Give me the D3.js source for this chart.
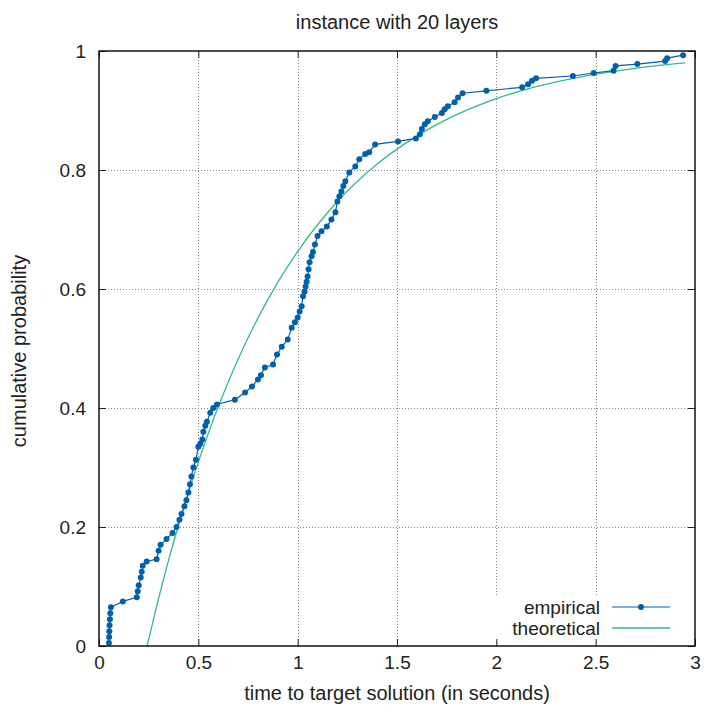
<!DOCTYPE html>
<html><head><meta charset="utf-8">
<script src="https://cdn.jsdelivr.net/npm/d3@7"></script>
<style>body{margin:0;background:#fff}svg{display:block}text{font-family:"Liberation Sans",Arial,sans-serif;fill:#222}</style>
</head><body>
<script>
const title = "instance with 20 layers";
const xLabel = "time to target solution (in seconds)";
const yLabel = "cumulative probability";
const xTicks = [0, 0.5, 1, 1.5, 2, 2.5, 3];
const yTicks = [0, 0.2, 0.4, 0.6, 0.8, 1];
const seriesNames = ["empirical", "theoretical"];

const empiricalTime = [0.050,0.051,0.052,0.053,0.055,0.057,0.060,0.12,0.19,0.195,0.20,0.21,0.215,0.22,0.24,0.29,0.30,0.31,0.34,0.37,0.39,0.405,0.415,0.43,0.44,0.45,0.458,0.465,0.475,0.488,0.50,0.51,0.52,0.525,0.535,0.543,0.56,0.575,0.594,0.684,0.735,0.77,0.80,0.815,0.835,0.876,0.896,0.92,0.95,0.97,0.986,1.0,1.01,1.02,1.027,1.035,1.04,1.045,1.05,1.055,1.06,1.07,1.077,1.087,1.10,1.12,1.147,1.17,1.19,1.20,1.21,1.22,1.23,1.24,1.26,1.29,1.31,1.34,1.36,1.39,1.505,1.595,1.615,1.625,1.64,1.655,1.69,1.726,1.74,1.756,1.79,1.807,1.83,1.95,2.13,2.16,2.18,2.20,2.385,2.49,2.59,2.60,2.71,2.85,2.86,2.94];
const empiricalProb = [0.005,0.015,0.025,0.035,0.045,0.055,0.065,0.075,0.082,0.092,0.102,0.115,0.125,0.135,0.142,0.146,0.160,0.170,0.180,0.190,0.200,0.212,0.222,0.235,0.245,0.258,0.272,0.285,0.300,0.313,0.335,0.340,0.347,0.360,0.370,0.377,0.392,0.400,0.406,0.414,0.426,0.436,0.448,0.455,0.468,0.473,0.490,0.503,0.515,0.535,0.544,0.552,0.562,0.571,0.588,0.596,0.604,0.612,0.621,0.633,0.645,0.655,0.662,0.675,0.689,0.697,0.705,0.717,0.729,0.747,0.756,0.764,0.773,0.781,0.796,0.806,0.818,0.827,0.830,0.843,0.848,0.853,0.860,0.869,0.877,0.882,0.889,0.896,0.902,0.907,0.914,0.922,0.929,0.933,0.939,0.944,0.950,0.954,0.958,0.963,0.967,0.975,0.978,0.983,0.988,0.993];

const theoTime = [0.242,0.27,0.30,0.35,0.40,0.45,0.50,0.60,0.70,0.80,0.90,1.00,1.20,1.40,1.60,1.80,2.00,2.20,2.40,2.60,2.80,2.95];
const theoProb = [0.000,0.039,0.080,0.144,0.203,0.258,0.309,0.402,0.482,0.551,0.611,0.663,0.747,0.810,0.857,0.893,0.920,0.940,0.955,0.966,0.975,0.980];

const W = 704, H = 711;
const m = {left: 99, right: 695, top: 51, bottom: 646};
const blue = "#0060ad", green = "#35b88a";

const svg = d3.select("body").append("svg").attr("width", W).attr("height", H);
const x = d3.scaleLinear().domain([0, 3]).range([m.left, m.right]);
const y = d3.scaleLinear().domain([0, 1]).range([m.bottom, m.top]);

// grid
const grid = svg.append("g").attr("stroke", "#888").attr("stroke-width", 1).attr("stroke-dasharray", "1,2");
grid.selectAll("line.gx").data(xTicks.filter(d => d > 0 && d < 3)).join("line")
  .attr("x1", d => Math.round(x(d)) + 0.5).attr("x2", d => Math.round(x(d)) + 0.5)
  .attr("y1", m.top).attr("y2", m.bottom);
grid.selectAll("line.gy").data(yTicks.filter(d => d > 0 && d < 1)).join("line")
  .attr("y1", d => Math.round(y(d)) + 0.5).attr("y2", d => Math.round(y(d)) + 0.5)
  .attr("x1", m.left).attr("x2", m.right);

// key background blanking grid
svg.append("rect").attr("x", 488).attr("y", 597).attr("width", 200).attr("height", 45).attr("fill", "#fff");

// axes with inward ticks
const fmt = d => d3.format("~g")(d);
svg.append("g").attr("transform", `translate(0,${m.bottom})`)
  .call(d3.axisBottom(x).tickValues(xTicks).tickFormat(fmt).tickSize(-7).tickPadding(10))
  .call(g => { g.select(".domain").remove(); g.selectAll("text").attr("font-size", 19); g.selectAll("line").attr("stroke", "#222"); });
svg.append("g").attr("transform", `translate(0,${m.top})`)
  .call(d3.axisTop(x).tickValues(xTicks).tickFormat("").tickSize(-7))
  .call(g => { g.select(".domain").remove(); g.selectAll("line").attr("stroke", "#222"); });
svg.append("g").attr("transform", `translate(${m.left},0)`)
  .call(d3.axisLeft(y).tickValues(yTicks).tickFormat(fmt).tickSize(-7).tickPadding(13))
  .call(g => { g.select(".domain").remove(); g.selectAll("text").attr("font-size", 19); g.selectAll("line").attr("stroke", "#222"); });
svg.append("g").attr("transform", `translate(${m.right},0)`)
  .call(d3.axisRight(y).tickValues(yTicks).tickFormat("").tickSize(-7))
  .call(g => { g.select(".domain").remove(); g.selectAll("line").attr("stroke", "#222"); });

// clip
svg.append("clipPath").attr("id", "clip").append("rect")
  .attr("x", m.left).attr("y", m.top).attr("width", m.right - m.left).attr("height", m.bottom - m.top);

const emp = empiricalTime.map((t, i) => [t, empiricalProb[i]]);
const theo = theoTime.map((t, i) => [t, theoProb[i]]);

const plot = svg.append("g").attr("clip-path", "url(#clip)");
plot.append("path").datum(theo)
  .attr("d", d3.line().x(d => x(d[0])).y(d => y(d[1])).curve(d3.curveMonotoneX))
  .attr("fill", "none").attr("stroke", green).attr("stroke-width", 1.3);
plot.append("path").datum(emp)
  .attr("d", d3.line().x(d => x(d[0])).y(d => y(d[1])))
  .attr("fill", "none").attr("stroke", blue).attr("stroke-width", 1.2);
plot.selectAll("circle").data(emp).join("circle")
  .attr("cx", d => x(d[0])).attr("cy", d => y(d[1])).attr("r", 3).attr("fill", blue);

// frame
svg.append("rect").attr("x", m.left).attr("y", m.top).attr("width", m.right - m.left).attr("height", m.bottom - m.top)
  .attr("fill", "none").attr("stroke", "#111").attr("stroke-width", 1.5);

// legend
const lg = svg.append("g");
[0, 1].forEach(i => {
  const yy = 607 + i * 21;
  lg.append("text").attr("x", 600).attr("y", yy).attr("dy", "0.35em").attr("text-anchor", "end")
    .attr("font-size", 19).text(seriesNames[i]);
  lg.append("line").attr("x1", 612).attr("x2", 670).attr("y1", yy).attr("y2", yy)
    .attr("stroke", i === 0 ? blue : green).attr("stroke-width", i === 0 ? 1.2 : 1.3);
  if (i === 0) lg.append("circle").attr("cx", 641).attr("cy", yy).attr("r", 3).attr("fill", blue);
});

// titles
svg.append("text").attr("x", 397).attr("y", 29).attr("text-anchor", "middle").attr("font-size", 20).text(title);
svg.append("text").attr("x", 397).attr("y", 700).attr("text-anchor", "middle").attr("font-size", 20).text(xLabel);
svg.append("text").attr("transform", "translate(26,351) rotate(-90)").attr("text-anchor", "middle").attr("font-size", 20).text(yLabel);
</script>
</body></html>
